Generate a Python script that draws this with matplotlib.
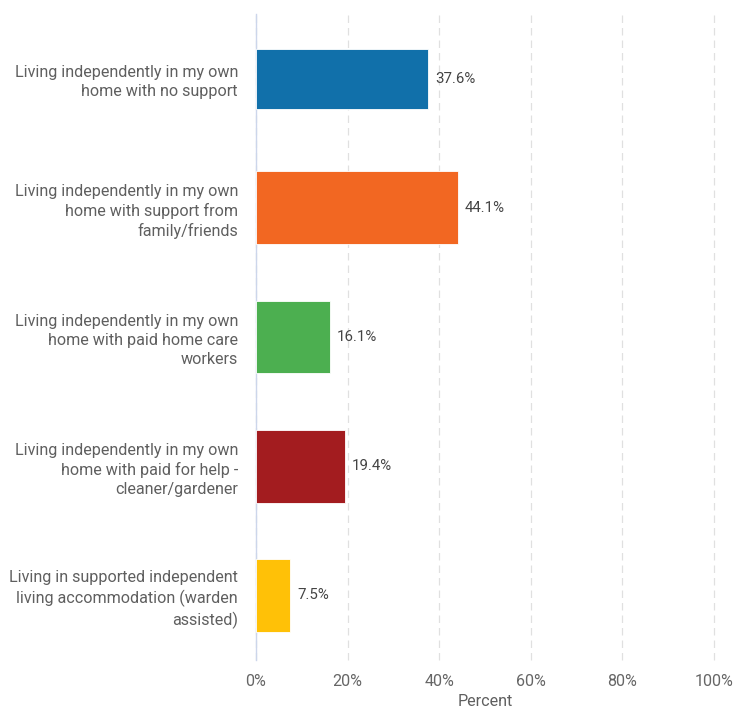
import matplotlib
matplotlib.use("Agg")
import matplotlib.pyplot as plt

categories = [
    "Living independently in my own\nhome with no support",
    "Living independently in my own\nhome with support from\nfamily/friends",
    "Living independently in my own\nhome with paid home care\nworkers",
    "Living independently in my own\nhome with paid for help -\ncleaner/gardener",
    "Living in supported independent\nliving accommodation (warden\nassisted)",
]
values = [37.6, 44.1, 16.1, 19.4, 7.5]
value_labels = ["37.6%", "44.1%", "16.1%", "19.4%", "7.5%"]
colors = ["#1170aa", "#f26722", "#4caf50", "#a31c1f", "#ffc107"]
bar_heights = [0.465, 0.565, 0.565, 0.565, 0.565]
xticks = [0, 20, 40, 60, 80, 100]
xtick_labels = ["0%", "20%", "40%", "60%", "80%", "100%"]

plt.rcParams['font.family'] = ['Roboto', 'DejaVu Sans']
fig = plt.figure(figsize=(7.36, 7.12), dpi=100)
ax = fig.add_axes([256/736, 1-660/712, (714-256)/736, (660-14)/712])

ypos = list(range(len(values)))
ax.barh(ypos, values, height=bar_heights, color=colors, edgecolor="white", linewidth=0.6, zorder=3)
for y, v, t in zip(ypos, values, value_labels):
    ax.text(v + 1.5, y, t, va="center", ha="left", fontsize=10.8, color="#444444")

ax.set_xlim(0, 100)
ax.set_ylim(4.5, -0.5)
ax.set_yticks(ypos)
ax.set_yticklabels(categories, fontsize=11.6, color="#5f5f5f", linespacing=1.33)
ax.set_xticks(xticks)
ax.set_xticklabels(xtick_labels, fontsize=11.6, color="#666666")
ax.tick_params(axis="y", length=0, pad=13)
ax.tick_params(axis="x", length=0, pad=10)
ax.set_xlabel("Percent", fontsize=11.6, color="#5f5f5f", labelpad=4)

for s in ["top", "right", "bottom"]:
    ax.spines[s].set_visible(False)
ax.spines["left"].set_color("#ccd6eb")
ax.spines["left"].set_linewidth(1.0)
ax.grid(axis="x", color="#e0e0e0", linestyle=(0, (6, 4)), linewidth=0.9, zorder=0)
ax.grid(axis="y", visible=False)
for gl in ax.get_xgridlines():
    gl.set_clip_on(False)
ax.set_axisbelow(True)

fig.savefig("out.png", dpi=100, facecolor="white")
